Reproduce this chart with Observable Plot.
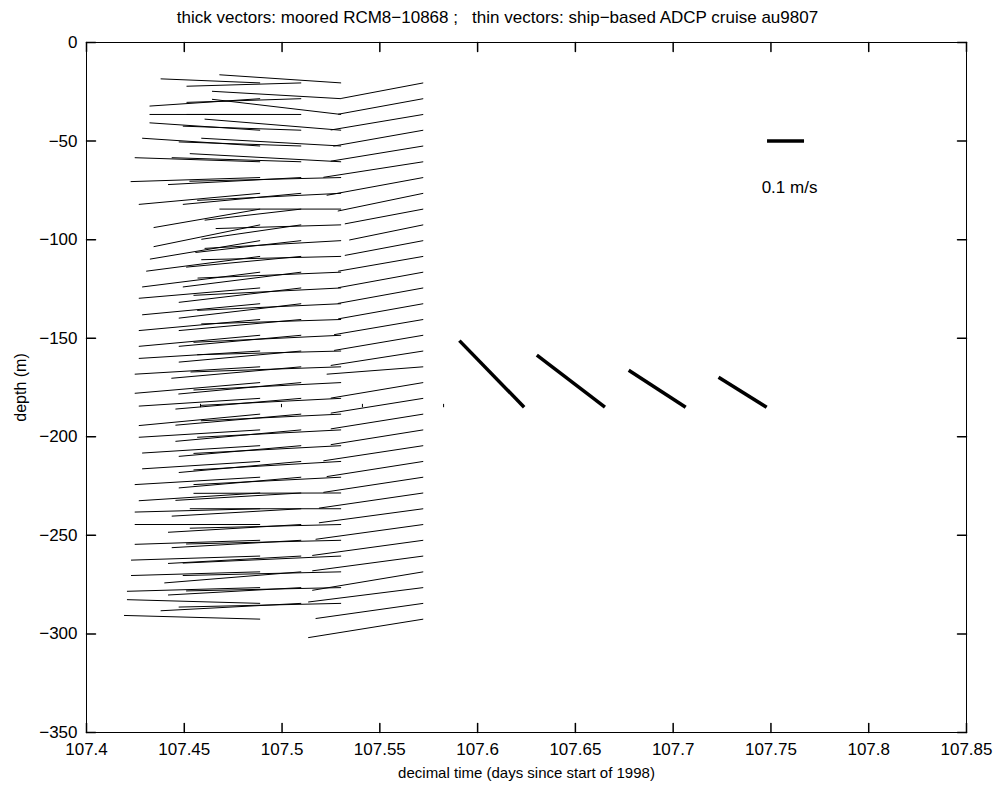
<!DOCTYPE html>
<html>
<head>
<meta charset="utf-8">
<script src="https://cdn.jsdelivr.net/npm/d3@7"></script>
<script src="https://cdn.jsdelivr.net/npm/@observablehq/plot@0.6"></script>
<style>
  html, body { margin: 0; padding: 0; background: #fff; }
</style>
</head>
<body>
<div id="chart"></div>
<script>
// ---------------- data ----------------
const titleText = "thick vectors: moored RCM8\u221210868 ;\u00a0\u00a0\u00a0thin vectors: ship\u2212based ADCP cruise au9807";
const xLabel = "decimal time (days since start of 1998)";
const yLabel = "depth (m)";
const xTicks = [107.4, 107.45, 107.5, 107.55, 107.6, 107.65, 107.7, 107.75, 107.8, 107.85];
const yTicks = [-350, -300, -250, -200, -150, -100, -50, 0];

// ship-based ADCP ensembles (decimal day) and depth bins (m)
const shipTimes = [107.4888, 107.5098, 107.5302, 107.5722];
const shipDepths = [-20.5, -28.5, -36.5, -44.5, -52.5, -60.5, -68.5, -76.5, -84.5, -92.5,
  -100.5, -108.5, -116.5, -124.5, -132.5, -140.5, -148.5, -156.5, -164.5, -172.5,
  -180.5, -188.5, -196.5, -204.5, -212.5, -220.5, -228.5, -236.5, -244.5, -252.5,
  -260.5, -268.5, -276.5, -284.5, -292.5];

// east (u) and north (v) velocity, m/s, per ensemble
const u1 = [-0.269, -0.299, -0.299, -0.299, -0.319, -0.339, -0.350, -0.328, -0.288, -0.288,
  -0.298, -0.308, -0.319, -0.328, -0.319, -0.328, -0.328, -0.328, -0.339, -0.339,
  -0.328, -0.328, -0.328, -0.319, -0.319, -0.339, -0.328, -0.339, -0.339, -0.339,
  -0.349, -0.349, -0.360, -0.360, -0.368];
const v1 = [0.011, -0.020, 0.000, 0.020, 0.021, 0.011, -0.011, -0.030, -0.050, -0.059,
  -0.050, -0.040, -0.040, -0.028, -0.030, -0.030, -0.030, -0.020, -0.020, -0.029,
  -0.021, -0.031, -0.020, -0.020, -0.020, -0.020, -0.021, -0.009, 0.000, -0.011,
  -0.011, -0.010, -0.010, 0.010, 0.010];
const u2 = [-0.310, -0.310, -0.310, -0.320, -0.331, -0.350, -0.360, -0.320, -0.261, -0.270,
  -0.286, -0.311, -0.320, -0.331, -0.331, -0.331, -0.331, -0.331, -0.351, -0.332,
  -0.340, -0.340, -0.340, -0.331, -0.331, -0.331, -0.340, -0.350, -0.360, -0.350,
  -0.360, -0.370, -0.360, -0.380, null];
const v2 = [-0.009, -0.010, 0.000, 0.011, 0.011, 0.011, -0.019, -0.030, -0.030, -0.039,
  -0.032, -0.029, -0.040, -0.039, -0.039, -0.030, -0.030, -0.030, -0.031, -0.031,
  -0.029, -0.030, -0.031, -0.029, -0.030, -0.029, -0.020, -0.020, -0.021, -0.020,
  -0.020, -0.030, -0.020, -0.020, null];
const u3 = [-0.329, -0.349, -0.349, -0.369, -0.378, -0.409, -0.410, -0.389, -0.329, -0.339,
  -0.369, -0.378, -0.388, -0.399, -0.389, -0.378, -0.399, -0.389, -0.407, -0.399,
  -0.379, -0.379, -0.389, -0.399, -0.399, -0.399, -0.399, -0.409, -0.409, -0.419,
  -0.428, -0.428, -0.419, -0.439, null];
const v3 = [0.022, 0.020, 0.041, 0.030, 0.021, 0.022, -0.010, -0.019, 0.000, -0.010,
  -0.021, -0.009, -0.016, -0.020, -0.018, -0.012, -0.019, -0.010, -0.014, -0.020,
  -0.019, -0.018, -0.020, -0.021, -0.023, -0.020, -0.001, 0.000, -0.010, -0.010,
  -0.019, -0.010, -0.009, -0.010, null];
const u4 = [-0.222, -0.230, -0.250, -0.243, -0.250, -0.270, -0.261, -0.231, -0.212, -0.200,
  -0.212, -0.230, -0.230, -0.231, -0.230, -0.241, -0.241, -0.250, -0.261, -0.250,
  -0.250, -0.250, -0.250, -0.270, -0.261, -0.270, -0.282, -0.282, -0.291, -0.300,
  -0.300, -0.300, -0.311, -0.291, -0.311];
const v4 = [-0.042, -0.042, -0.042, -0.043, -0.041, -0.042, -0.048, -0.048, -0.040, -0.041,
  -0.040, -0.040, -0.042, -0.042, -0.041, -0.041, -0.041, -0.039, -0.020, -0.042,
  -0.040, -0.040, -0.040, -0.041, -0.041, -0.041, -0.041, -0.038, -0.040, -0.041,
  -0.040, -0.050, -0.039, -0.041, -0.050];

// moored current meter RCM8-10868 (hourly)
const mooringDepth = -185;
const mooringTimes = [107.4583, 107.4997, 107.5411, 107.5826, 107.6238, 107.6651, 107.7064, 107.7478];
const mooringU = [0.000, 0.000, 0.000, 0.000, -0.175, -0.184, -0.154, -0.130];
const mooringV = [0.009, 0.009, 0.009, 0.009, 0.180, 0.141, 0.100, 0.081];

// reference vector
const refTime = 107.748;
const refDepth = -50;
const refSpeed = 0.1;
const refLabel = "0.1 m/s";

// quiver scaling: data units per (m/s)
const kx = 0.1892;  // days per m/s
const ky = 187.7;   // m per m/s

// ---------------- tables ----------------
const shipU = [u1, u2, u3, u4];
const shipV = [v1, v2, v3, v4];
const ship = [];
shipTimes.forEach((t, i) => {
  shipDepths.forEach((z, k) => {
    const u = shipU[i][k], v = shipV[i][k];
    if (u != null && v != null) ship.push({t, z, u, v});
  });
});
const mooring = mooringTimes.map((t, i) => ({t, z: mooringDepth, u: mooringU[i], v: mooringV[i]}));
const ref = [{t: refTime, z: refDepth, u: refSpeed, v: 0}];

const tickShape = {draw(context, l) { context.moveTo(0, 0); context.lineTo(0, -l); }};
const tickLen = 9;

const chart = Plot.plot({
  width: 994,
  height: 787,
  marginLeft: 86,
  marginRight: 28,
  marginTop: 42,
  marginBottom: 55,
  x: {domain: [107.4, 107.85]},
  y: {domain: [-350, 0]},
  style: {fontFamily: "'Liberation Sans', Arial, Helvetica, sans-serif", fontSize: "15px", background: "#fff", color: "#000"},
  marks: [
    // thin vectors: ship ADCP
    Plot.link(ship, {
      x1: "t", y1: "z",
      x2: d => d.t + d.u * kx, y2: d => d.z + d.v * ky,
      stroke: "#000", strokeWidth: 1
    }),
    // thick vectors: mooring
    Plot.link(mooring, {
      x1: "t", y1: "z",
      x2: d => d.t + d.u * kx, y2: d => d.z + d.v * ky,
      stroke: "#000",
      strokeWidth: d => Math.hypot(d.u, d.v) < 0.02 ? 1 : 3.5
    }),
    // reference vector
    Plot.link(ref, {
      x1: "t", y1: "z",
      x2: d => d.t + d.u * kx, y2: d => d.z + d.v * ky,
      stroke: "#000", strokeWidth: 3.5
    }),
    Plot.text(ref, {
      x: d => d.t + d.u * kx / 2, y: "z", text: () => refLabel,
      dx: 4, dy: 46, fontSize: 17, fill: "#000"
    }),
    // frame and inward ticks
    Plot.frame({stroke: "#000", strokeWidth: 1}),
    Plot.vector(xTicks, {x: d => d, y: -350, length: tickLen, rotate: 0, anchor: "start", shape: tickShape, stroke: "#000"}),
    Plot.vector(xTicks, {x: d => d, y: 0, length: tickLen, rotate: 180, anchor: "start", shape: tickShape, stroke: "#000"}),
    Plot.vector(yTicks, {x: 107.4, y: d => d, length: tickLen, rotate: 90, anchor: "start", shape: tickShape, stroke: "#000"}),
    Plot.vector(yTicks, {x: 107.85, y: d => d, length: tickLen, rotate: -90, anchor: "start", shape: tickShape, stroke: "#000"}),
    // tick labels
    Plot.axisX({anchor: "bottom", ticks: xTicks, tickSize: 0, tickPadding: 10, tickFormat: d => String(d), label: null, fontSize: 17}),
    Plot.axisY({anchor: "left", ticks: yTicks, tickSize: 0, tickPadding: 9, label: null, fontSize: 17}),
    // axis titles and title
    Plot.text([xLabel], {frameAnchor: "bottom", dy: 41, lineAnchor: "middle", textAnchor: "middle", fontSize: 15, fill: "#000"}),
    Plot.text([yLabel], {frameAnchor: "left", dx: -66, rotate: -90, lineAnchor: "middle", textAnchor: "middle", fontSize: 16, fill: "#000"}),
    Plot.text([titleText], {frameAnchor: "top", dx: -29, dy: -25, lineAnchor: "middle", textAnchor: "middle", fontSize: 17, fill: "#000"})
  ]
});
document.getElementById("chart").appendChild(chart);
</script>
</body>
</html>
